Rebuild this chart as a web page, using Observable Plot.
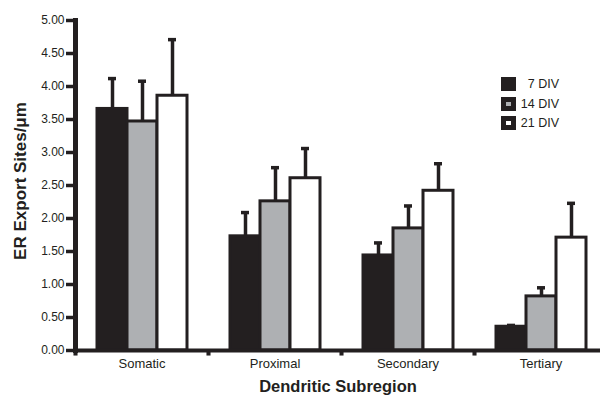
<!DOCTYPE html>
<html><head><meta charset="utf-8">
<script src="https://cdn.jsdelivr.net/npm/d3@7"></script>
<script src="https://cdn.jsdelivr.net/npm/@observablehq/plot@0.6"></script>
<style>
body{margin:0;background:#fff;}
#wrap{position:relative;width:600px;height:395px;font-family:"Liberation Sans",Arial,Helvetica,sans-serif;color:#231f20;}
#wrap svg{display:block;font-family:"Liberation Sans",Arial,Helvetica,sans-serif;}
.ylabel{position:absolute;left:21px;top:181px;transform:translate(-50%,-50%) rotate(-90deg);font-weight:bold;font-size:17px;white-space:nowrap;}
.xlabel{position:absolute;left:338px;top:386px;transform:translate(-50%,-50%);font-weight:bold;font-size:16.5px;white-space:nowrap;}
.legend{position:absolute;left:501px;top:77px;font-size:12.5px;}
.legend .row{position:relative;height:19.5px;width:58px;}
.legend .sw{position:absolute;left:0;top:0;width:15px;height:14px;background:#231f20;}
.legend .sw i{position:absolute;left:5px;top:5px;width:5px;height:4px;}
.legend .tx{position:absolute;right:0;top:7px;transform:translateY(-50%);white-space:nowrap;}
</style></head>
<body>
<div id="wrap"></div>
<script>
const categories = ["Somatic", "Proximal", "Secondary", "Tertiary"];
const seriesNames = ["7 DIV", "14 DIV", "21 DIV"];
const div7 = [3.66, 1.73, 1.44, 0.36];
const div14 = [3.47, 2.26, 1.85, 0.82];
const div21 = [3.86, 2.61, 2.42, 1.71];
const err7 = [0.46, 0.36, 0.19, 0.02];
const err14 = [0.61, 0.51, 0.34, 0.13];
const err21 = [0.85, 0.45, 0.41, 0.52];
const yTicks = [0, 0.5, 1, 1.5, 2, 2.5, 3, 3.5, 4, 4.5, 5];
const seriesColors = ["#231f20", "#aeb0b3", "#ffffff"];
const yLabel = "ER Export Sites/μm";
const xLabel = "Dendritic Subregion";

const values = [div7, div14, div21];
const errors = [err7, err14, err21];
const rows = [];
categories.forEach((c, i) => seriesNames.forEach((s, j) => {
  rows.push({category: c, series: s, value: values[j][i], err: errors[j][i]});
}));
const ink = "#231f20";

const chart = Plot.plot({
  width: 600, height: 395,
  marginLeft: 74, marginRight: -7, marginTop: 20, marginBottom: 45,
  fx: {domain: categories, paddingInner: 0, paddingOuter: 0, label: null, axis: null},
  x: {domain: seriesNames, paddingInner: 0, paddingOuter: 0.65, axis: null},
  y: {domain: [0, 5], axis: null},
  color: {domain: seriesNames, range: seriesColors},
  marks: [
    Plot.barY(rows, {fx: "category", x: "series", y: "value", fill: "series", stroke: ink, strokeWidth: 3}),
    Plot.ruleX(rows, {fx: "category", x: "series", y1: "value", y2: d => d.value + d.err, stroke: ink, strokeWidth: 3.5}),
    Plot.tickY(rows, {fx: "category", x: "series", y: d => d.value + d.err, stroke: ink, strokeWidth: 3.5, inset: 11}),
    Plot.ruleY([0], {stroke: ink, strokeWidth: 4}),
    Plot.dot(categories, {fx: d => d, frameAnchor: "bottom-left", symbol: "square", r: 2.3, fill: ink, stroke: null, dy: 3}),
    Plot.frame({anchor: "left", facet: "super", stroke: ink, strokeWidth: 5}),
    Plot.axisY({ticks: yTicks, tickFormat: d3.format(".2f"), tickSize: 9, tickPadding: 2, strokeWidth: 3.5, stroke: ink, fontSize: 12, label: null}),
    Plot.axisFx({anchor: "bottom", tickSize: 0, tickPadding: 8, fontSize: 13, label: null})
  ]
});
const wrap = document.getElementById("wrap");
wrap.appendChild(chart);

const yl = document.createElement("div"); yl.className = "ylabel"; yl.textContent = yLabel; wrap.appendChild(yl);
const xl = document.createElement("div"); xl.className = "xlabel"; xl.textContent = xLabel; wrap.appendChild(xl);
const lg = document.createElement("div"); lg.className = "legend";
seriesNames.forEach((s, j) => {
  const r = document.createElement("div"); r.className = "row";
  const sw = document.createElement("div"); sw.className = "sw";
  if (j > 0) { const inner = document.createElement("i"); inner.style.background = seriesColors[j]; sw.appendChild(inner); }
  const tx = document.createElement("span"); tx.className = "tx"; tx.textContent = s;
  r.appendChild(sw); r.appendChild(tx); lg.appendChild(r);
});
wrap.appendChild(lg);
</script>
</body></html>
